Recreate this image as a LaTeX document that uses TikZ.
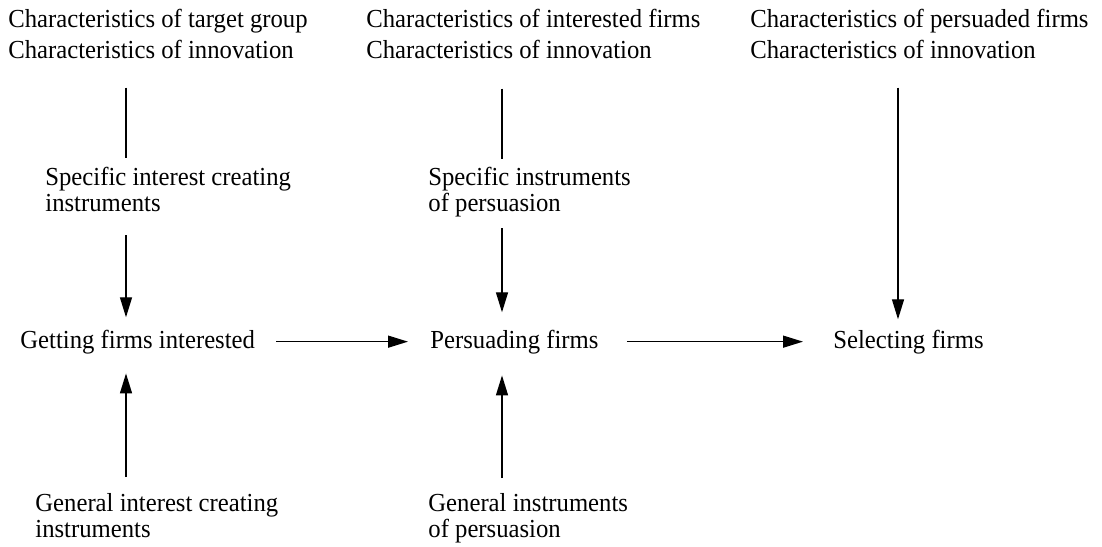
\documentclass[tikz,border=0pt]{standalone}
\usepackage{fontspec}
\setmainfont{Liberation Serif}[FakeStretch=0.95]
\usetikzlibrary{arrows.meta}

\tikzset{
  lbl/.style={inner sep=0pt, anchor=base west},
  blk/.style={inner sep=0pt, anchor=north west, align=left},
  link/.style={line width=0.7pt},
  flow/.style={link, -{Triangle[length=10pt,width=6pt]}}
}

\begin{document}
\begin{tikzpicture}
    [ x=0.5pt, y=-0.5pt
    , font=\fontsize{13}{13}\selectfont
    ]
\useasboundingbox (0,0) rectangle (1102,546);
\coordinate (c1) at (126,0);
\coordinate (c2) at (502,0);
\coordinate (c3) at (898,0);

\node[lbl] (tgA) at (8,27) {Characteristics of target group};
\node[lbl] (inA) at (8,58) {Characteristics of innovation};
\node[lbl] (tgB) at (366,27) {Characteristics of interested firms};
\node[lbl] (inB) at (366,58) {Characteristics of innovation};
\node[lbl] (tgC) at (750,27) {Characteristics of persuaded firms};
\node[lbl] (inC) at (750,58) {Characteristics of innovation};

\node[blk] (spA) at (45,167) {Specific interest creating\\instruments};
\node[blk] (spB) at (428,167) {Specific instruments\\of persuasion};

\node[lbl] (getting) at (20,348) {Getting firms interested};
\node[lbl] (persuading) at (430,348) {Persuading firms};
\node[lbl] (selecting) at (833,348) {Selecting firms};

\node[blk] (geA) at (35,493) {General interest creating\\instruments};
\node[blk] (geB) at (428,493) {General instruments\\of persuasion};

\draw[link, shorten <=14.5pt, shorten >=4.5pt] (inA.south -| c1) -- (spA.north -| c1);
\draw[flow, shorten <=11.5pt, shorten >=6pt] (spA.south -| c1) -- (getting.north -| c1);
\draw[flow, shorten <=8pt, shorten >=9.7pt] (geA.north -| c1) -- (getting.south -| c1);

\draw[link, shorten <=15pt, shorten >=4pt] (inB.south -| c2) -- (spB.north -| c2);
\draw[flow, shorten <=5.2pt, shorten >=8.5pt] (spB.south -| c2) -- (persuading.north -| c2);
\draw[flow, shorten <=7.5pt, shorten >=10.7pt] (geB.north -| c2) -- (persuading.south -| c2);

\draw[flow, shorten <=14.5pt, shorten >=5pt] (inC.south -| c3) -- (selecting.north -| c3);

\draw[flow, shorten <=10.5pt, shorten >=11pt] (getting.east) -- (persuading.west);
\draw[flow, shorten <=14pt, shorten >=15pt] (persuading.east) -- (selecting.west);
\end{tikzpicture}
\end{document}
